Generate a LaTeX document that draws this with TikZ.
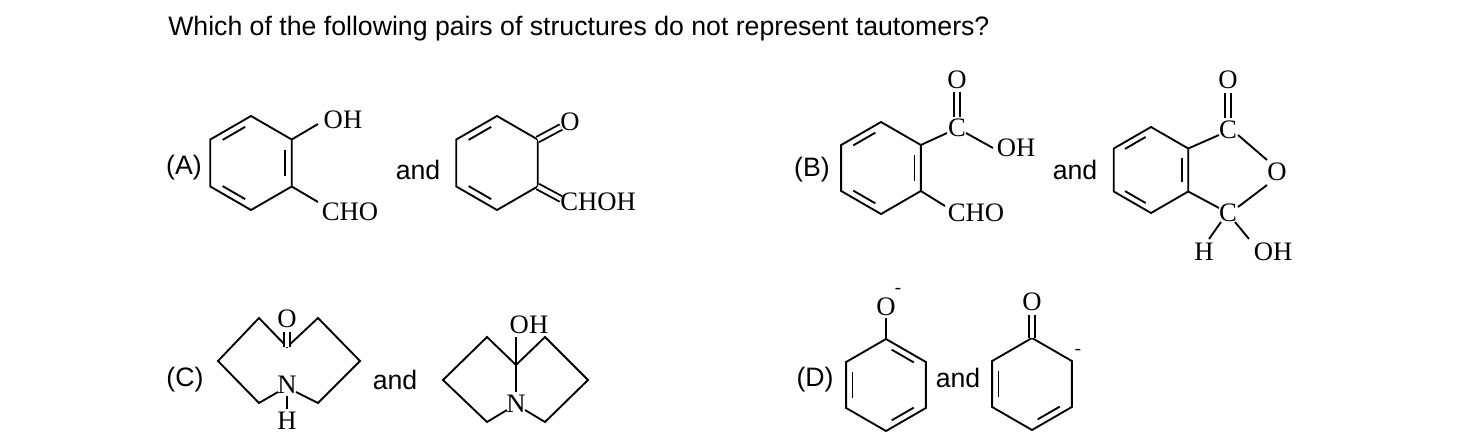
\documentclass[tikz,border=0pt]{standalone}
\usepackage{fontspec}
\setmainfont{Liberation Serif}
\setsansfont{Liberation Sans}
\usetikzlibrary{calc}
\newcommand\hexring[4]{%
 \coordinate (#1c) at (#2,#3);
 \coordinate (#1t) at (#2,{#3-#4});
 \coordinate (#1ur) at ({#2+0.866*#4},{#3-0.5*#4});
 \coordinate (#1lr) at ({#2+0.866*#4},{#3+0.5*#4});
 \coordinate (#1b) at (#2,{#3+#4});
 \coordinate (#1ll) at ({#2-0.866*#4},{#3+0.5*#4});
 \coordinate (#1ul) at ({#2-0.866*#4},{#3-0.5*#4});
 \draw[bond] (#1t)--(#1ur)--(#1lr)--(#1b)--(#1ll)--(#1ul)--cycle;}
\newcommand\innerb[3]{\draw[bond] ($(#1)!.17!(#2)!.16!(#3)$) -- ($(#2)!.17!(#1)!.16!(#3)$);}
\begin{document}
\begin{tikzpicture}[x=0.75pt,y=-0.75pt,
 bond/.style={line width=1.4pt,line join=miter},
 dbond/.style={line width=1.4pt,double,double distance=3pt},
 lab/.style={font=\fontsize{20}{22}\selectfont,inner sep=0pt},
 minus/.style={font=\fontsize{14}{16}\selectfont,inner sep=0pt},
 sf/.style={font=\sffamily\fontsize{20}{23}\selectfont,inner sep=0pt}]
\useasboundingbox (0,0) rectangle (1481,443);
\node[sf,anchor=west] (title) at (168,29) {Which of the following pairs of structures do not represent tautomers?};
% labels
\node[sf] (la) at (184,168) {(A)};
\node[sf] (anda) at (418,170) {and};
\node[sf] (lb) at (812,170) {(B)};
\node[sf] (andb) at (1075,170) {and};
\node[sf] (lc) at (185,380) {(C)};
\node[sf] (andc) at (395,380) {and};
\node[sf] (ld) at (815,380) {(D)};
\node[sf] (andd) at (958,378) {and};
% A1
\hexring{a}{251}{163}{47}
\innerb{aul}{at}{ac}\innerb{aur}{alr}{ac}\innerb{all}{ab}{ac}
\node[lab] (aoh) at (343,120) {OH};
\node[lab] (acho) at (350,212) {CHO};
\draw[bond] (aur)--(318,124);
\draw[bond] (alr)--(318,202);
% A2
\hexring{b}{497}{163}{47}
\innerb{bul}{bt}{bc}\innerb{bll}{bb}{bc}
\node[lab] (bo) at (570,122) {O};
\draw[dbond] (bur)--(561,127);
\node[lab,anchor=west] (bchoh) at (560,202) {CHOH};
\draw[dbond] (blr)--(561,199);
% B1
\hexring{c}{881}{168}{46}
\innerb{cul}{ct}{cc}\innerb{cur}{clr}{cc}\innerb{cll}{cb}{cc}
\node[lab] (cC) at (957,128) {C};
\node[lab] (cO) at (957,80) {O};
\node[lab] (coh) at (1016,148) {OH};
\node[lab] (ccho) at (976,213) {CHO};
\draw[bond] (cur)--(947,133);
\draw[dbond] (957,117) -- (957,92);
\draw[bond] (966,133)--(993,148);
\draw[bond] (clr)--(945,206);
% B2
\hexring{d}{1151}{170}{43}
\innerb{dul}{dt}{dc}\innerb{dur}{dlr}{dc}\innerb{dll}{db}{dc}
\node[lab] (dC1) at (1228,130) {C};
\node[lab] (dO1) at (1228,80) {O};
\node[lab] (dO2) at (1277,172) {O};
\node[lab] (dC2) at (1228,213) {C};
\node[lab] (dH) at (1204,252) {H};
\node[lab] (doh) at (1273,252) {OH};
\draw[bond] (dur)--(1219,135);
\draw[dbond] (1228,118)--(1228,93);
\draw[bond] (1238,135)--(1267,160);
\draw[bond] (1267,185)--(1238,207);
\draw[bond] (dlr)--(1219,208);
\draw[bond] (1221,222)--(1209,239);
\draw[bond] (1235,222)--(1249,239);
% C1
\coordinate (e1) at (218,361);\coordinate (e2) at (259,318);\coordinate (e3) at (287,347);
\coordinate (e4) at (318,318);\coordinate (e5) at (360,361);\coordinate (e6) at (318,403);
\coordinate (e8) at (259,403);
\node[lab] (eO) at (287,319) {O};
\node[lab] (eN) at (287,385) {N};
\node[lab] (eH) at (287,421) {H};
\draw[bond] (278,392) -- (e8) -- (e1) -- (e2) -- (e3) -- (e4) -- (e5) -- (e6) -- (296,392);
\draw[dbond] (e3)--(287,332);
\draw[bond] (287,396)--(287,409);
% C2
\coordinate (f1) at (443,380);\coordinate (f2) at (487,337);\coordinate (f3) at (516,365);
\coordinate (f4) at (545,337);\coordinate (f5) at (588,380);\coordinate (f6) at (545,422);
\coordinate (f8) at (487,422);
\node[lab] (fN) at (516,404) {N};
\node[lab] (foh) at (529,325) {OH};
\draw[bond] (507,410) -- (f8) -- (f1) -- (f2) -- (f3) -- (f4) -- (f5) -- (f6) -- (525,410);
\draw[bond] (516,337)--(f3)--(516,392);
% D1
\hexring{g}{886}{385}{46}
\innerb{gt}{gur}{gc}\innerb{gll}{gul}{gc}\innerb{glr}{gb}{gc}
\node[lab] (gO) at (886,307) {O};
\node[minus] (gm) at (898,291) {-};
\draw[bond] (gt)--(886,318);
% D2
\hexring{h}{1032}{384}{46}
\innerb{hll}{hul}{hc}\innerb{hlr}{hb}{hc}
\node[lab] (hO) at (1032,302) {O};
\node[minus] (hm) at (1078,352) {-};
\draw[dbond] (ht)--(1032,315);
\end{tikzpicture}
\end{document}
